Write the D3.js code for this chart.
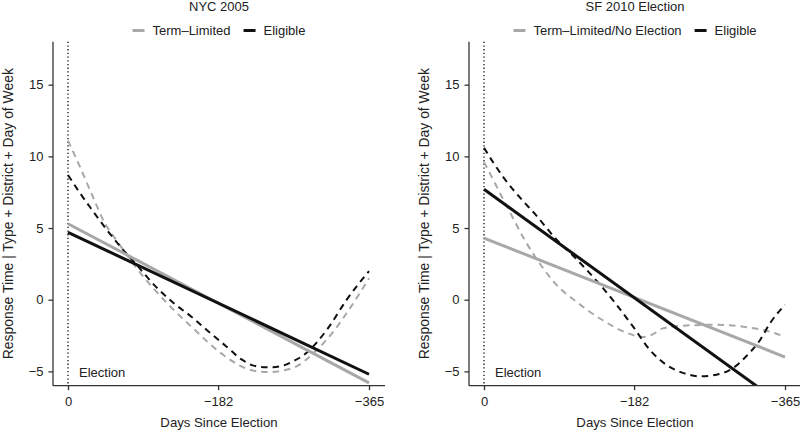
<!DOCTYPE html>
<html><head><meta charset="utf-8">
<script src="https://cdn.jsdelivr.net/npm/d3@7"></script>
<style>
html,body{margin:0;padding:0;background:#fff;}
text{font-family:"Liberation Sans",Arial,Helvetica,sans-serif;fill:#222;}
</style></head>
<body><svg id="c" width="800" height="434"></svg>
<script>
// ---------- data ----------
const xTicks = [0, -182, -365];
const yTicks = [-5, 0, 5, 10, 15];
const panelTitles = ["NYC 2005", "SF 2010 Election"];
const legendLabelsNYC = ["Term\u2013Limited", "Eligible"];
const legendLabelsSF = ["Term\u2013Limited/No Election", "Eligible"];

// NYC 2005 — linear fits
const nycLineDays = [0, -365];
const nycTermLimitedLine = [5.3, -5.8];
const nycEligibleLine = [4.7, -5.2];
// NYC 2005 — smooth fits
const nycTermLimitedSmoothDays = [0, -15, -30, -45, -60, -77, -90, -105, -124, -150, -188, -220, -241, -260, -277, -300, -322, -338, -365];
const nycTermLimitedSmooth = [11.1, 9.2, 7.2, 5.3, 4.05, 2.67, 1.7, 0.7, -0.47, -1.9, -3.84, -4.88, -5.05, -4.95, -4.65, -3.6, -2.21, -0.93, 1.5];
const nycEligibleSmoothDays = [0, -15, -30, -47, -65, -83, -105, -128, -150, -170, -192, -210, -225, -241, -257, -273, -289, -314, -338, -365];
const nycEligibleSmooth = [8.7, 7.4, 6.2, 4.88, 3.6, 2.44, 1.0, -0.23, -1.2, -2.2, -3.26, -4.15, -4.6, -4.72, -4.65, -4.3, -3.72, -2.09, 0.0, 2.0];

// SF 2010 — linear fits
const sfLineDays = [0, -365];
const sfTermLimitedLine = [4.3, -4.0];
const sfEligibleLine = [7.7, -7.45];
// SF 2010 — smooth fits
const sfTermLimitedSmoothDays = [0, -10, -21, -28, -36, -48, -62, -86, -114, -143, -175, -193, -205, -217, -242, -282, -322, -351, -365];
const sfTermLimitedSmooth = [9.6, 8.5, 7.25, 6.5, 5.6, 4.3, 3.0, 1.16, -0.23, -1.4, -2.35, -2.6, -2.4, -2.0, -1.81, -1.75, -1.95, -2.3, -2.6];
const sfEligibleSmoothDays = [0, -12, -24, -44, -63, -87, -110, -139, -160, -181, -201, -221, -242, -262, -282, -302, -318, -335, -347, -365];
const sfEligibleSmooth = [10.6, 9.5, 8.5, 7.1, 5.9, 4.25, 2.95, 1.16, -0.3, -1.9, -3.49, -4.54, -5.12, -5.35, -5.23, -4.77, -3.95, -2.79, -1.63, -0.35];

// ---------- drawing ----------
const GRAY = "#a8a8a8", BLACK = "#111";
const svg = d3.select("#c");
svg.append("rect").attr("width", 800).attr("height", 434).attr("fill", "#fff");

const zip = (xs, ys) => xs.map((d, i) => ({x: d, y: ys[i]}));

function panel(ox, idx, title, legendLabels, series) {
  const left = ox + 53, right = ox + 385, top = 41.7, bottom = 385.7;
  const x = d3.scaleLinear().domain([18.2, -384.4]).range([left, right]);
  const y = d3.scaleLinear().domain([-6, 18]).range([bottom, top]);
  const g = svg.append("g");

  const clipId = "clip" + idx;
  svg.append("clipPath").attr("id", clipId).append("rect")
    .attr("x", left).attr("y", top).attr("width", right - left).attr("height", bottom - top);

  // Election dotted line
  g.append("line").attr("x1", x(0)).attr("x2", x(0)).attr("y1", top).attr("y2", bottom)
    .attr("stroke", "#222").attr("stroke-width", 1.4).attr("stroke-dasharray", "1.3,2.4");
  g.append("text").attr("x", x(0) + 11).attr("y", 376.5).attr("font-size", 13).text("Election");

  const line = d3.line().x(d => x(d.x)).y(d => y(d.y)).curve(d3.curveMonotoneX);
  const pg = g.append("g").attr("clip-path", `url(#${clipId})`);
  series.forEach(s => {
    pg.append("path").attr("d", line(zip(s.days, s.vals)))
      .attr("fill", "none").attr("stroke", s.color)
      .attr("stroke-width", s.dashed ? 2 : 3)
      .attr("stroke-dasharray", s.dashed ? "6.5,5" : null);
  });

  // axes
  const ya = d3.axisLeft(y).tickValues(yTicks).tickSize(4.5).tickPadding(5)
    .tickFormat(d => d < 0 ? "\u2212" + Math.abs(d) : String(d));
  const yg = g.append("g").attr("transform", `translate(${left},0)`).call(ya);
  yg.select(".domain").attr("d", `M0,${top}V${bottom}`);
  const xa = d3.axisBottom(x).tickValues(xTicks).tickSize(4.5).tickPadding(7)
    .tickFormat(d => d < 0 ? "\u2212" + Math.abs(d) : String(d));
  const xg = g.append("g").attr("transform", `translate(0,${bottom})`).call(xa);
  xg.select(".domain").attr("d", `M${left},0H${right}`);
  [yg, xg].forEach(a => {
    a.selectAll(".domain").attr("stroke", "#333").attr("stroke-width", 1.3);
    a.selectAll(".tick line").attr("stroke", "#333").attr("stroke-width", 1.3);
    a.selectAll(".tick text").attr("font-size", 13).attr("fill", "#222")
      .attr("font-family", '"Liberation Sans",Arial,sans-serif');
  });

  // labels
  const cx = (left + right) / 2;
  g.append("text").attr("x", cx).attr("y", 426.5).attr("text-anchor", "middle")
    .attr("font-size", 13.2).text("Days Since Election");
  g.append("text").attr("transform", `translate(${ox + 12.5},${(top + bottom) / 2}) rotate(-90)`)
    .attr("text-anchor", "middle").attr("font-size", 13.9)
    .text("Response Time | Type + District + Day of Week");
  g.append("text").attr("x", cx).attr("y", 11).attr("text-anchor", "middle")
    .attr("font-size", 13).text(title);

  // legend
  const lg = g.append("g");
  const colors = [GRAY, BLACK];
  let pos = 0;
  legendLabels.forEach((lab, i) => {
    const it = lg.append("g").attr("transform", `translate(${pos},0)`);
    it.append("line").attr("x1", 0).attr("x2", 12).attr("y1", 30.5).attr("y2", 30.5)
      .attr("stroke", colors[i]).attr("stroke-width", 3);
    const t = it.append("text").attr("x", 20).attr("y", 35).attr("font-size", 13).text(lab);
    pos += 20 + t.node().getComputedTextLength() + 13;
  });
  const total = pos - 13;
  lg.attr("transform", `translate(${cx - total / 2},0)`);
}

panel(0, 0, panelTitles[0], legendLabelsNYC, [
  {days: nycTermLimitedSmoothDays, vals: nycTermLimitedSmooth, color: GRAY, dashed: true},
  {days: nycEligibleSmoothDays, vals: nycEligibleSmooth, color: BLACK, dashed: true},
  {days: nycLineDays, vals: nycTermLimitedLine, color: GRAY, dashed: false},
  {days: nycLineDays, vals: nycEligibleLine, color: BLACK, dashed: false}
]);
panel(416, 1, panelTitles[1], legendLabelsSF, [
  {days: sfTermLimitedSmoothDays, vals: sfTermLimitedSmooth, color: GRAY, dashed: true},
  {days: sfEligibleSmoothDays, vals: sfEligibleSmooth, color: BLACK, dashed: true},
  {days: sfLineDays, vals: sfTermLimitedLine, color: GRAY, dashed: false},
  {days: sfLineDays, vals: sfEligibleLine, color: BLACK, dashed: false}
]);
</script></body></html>
